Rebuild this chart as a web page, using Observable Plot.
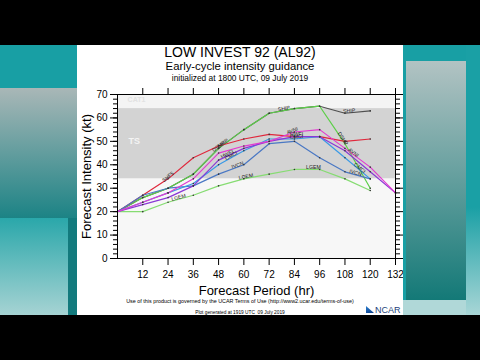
<!DOCTYPE html>
<html><head><meta charset="utf-8">
<script src="https://cdn.jsdelivr.net/npm/d3@7"></script>
<script src="https://cdn.jsdelivr.net/npm/@observablehq/plot@0.6"></script>
<style>
html,body{margin:0;padding:0;background:#000;width:480px;height:360px;overflow:hidden;font-family:"Liberation Sans",Arial,Helvetica,sans-serif;}
#stage{position:absolute;left:0;top:45px;width:480px;height:270px;background:#189fa4;overflow:hidden;}
.deco{position:absolute;}
#panel{position:absolute;left:77px;top:0;width:326px;height:270px;background:#fff;overflow:hidden;}
.t{position:absolute;left:0;width:326px;text-align:center;color:#000;white-space:nowrap;line-height:1.1;}
#chart{position:absolute;left:0;top:39px;}
</style></head>
<body>
<div id="stage">
  <div class="deco" style="left:0;top:43px;width:77px;height:130px;background:linear-gradient(#a9b7b7,#1c8385);"></div>
  <div class="deco" style="left:0;top:173px;width:68px;height:97px;background:linear-gradient(#2aa7aa,#a6d3d3);"></div>
  <div class="deco" style="left:68px;top:173px;width:9px;height:97px;background:#137a7d;"></div>
  <div class="deco" style="left:466px;top:0;width:14px;height:270px;background:linear-gradient(#1aa0a5 60%,#a8d6d6);"></div>
  <div class="deco" style="left:406px;top:16px;width:60px;height:239px;background:linear-gradient(#b2c3c3,#137977);"></div>
  <div class="deco" style="left:403px;top:255px;width:63px;height:15px;background:#b0d8d8;"></div>
  <div id="panel">
    <div class="t" style="top:0px;font-size:14px;">LOW INVEST 92 (AL92)</div>
    <div class="t" style="top:15px;font-size:11.3px;">Early-cycle intensity guidance</div>
    <div class="t" style="top:29px;font-size:8.4px;">initialized at 1800 UTC, 09 July 2019</div>
    <div id="chart"></div>
    <div class="t" style="top:254px;font-size:5.4px;">Use of this product is governed by the UCAR Terms of Use (http://www2.ucar.edu/terms-of-use)</div>
    <div class="t" style="top:265px;font-size:4.8px;">Plot generated at 1919 UTC&nbsp;&nbsp;09 July 2019</div>
    <div style="position:absolute;left:289px;top:261px;font-size:9px;line-height:1;color:#1d3f7a;white-space:nowrap;"><span style="display:inline-block;width:8px;height:7px;background:linear-gradient(160deg,#2a7fd0,#0b3d8a);clip-path:polygon(0 0,100% 100%,0 100%);margin-right:1px;"></span>NCAR</div>
  </div>
</div>
<script>
const hours = [0,12,24,36,48,60,72,84,96,108,120,132];
const modelNames  = ["SHIP","DSHP","SHF5","LGEM","IVCN","CMCI","HWFI","AVNI"];
const modelColors = ["#505050","#5ccf48","#e0283c","#86dc72","#4a78c4","#3a9ae6","#8a38d6","#e23ad0"];
const SHIP = [20,26,30,36,47,55,62,64,65,62,63,null];
const DSHP = [20,26,30,36,47,55,62,64,65,49,30,null];
const SHF5 = [20,27,34,43,48,51,53,52,52,50,51,null];
const LGEM = [20,20,24,27,31,34,36,38,38,34,29,null];
const IVCN = [20,27,30,31,36,40,49,50,43,37,34,null];
const CMCI = [20,24,28,32,40,46,51,51,52,43,34,null];
const HWFI = [20,23,26,31,42,47,50,52,52,46,37,28];
const AVNI = [20,24,28,34,45,48,50,54,55,47,39,28];
const seriesValues = [SHIP,DSHP,SHF5,LGEM,IVCN,CMCI,HWFI,AVNI];
const bandNames = ["TD","TS","CAT1"];
const bandLo = [0,34,64];
const bandHi = [34,64,83];
const bandFills = ["#f7f7f7","#d3d3d3","#f4f4f4"];
const xTicks = [12,24,36,48,60,72,84,96,108,120,132];
const yTicks = [0,10,20,30,40,50,60,70];
const labelModels = ["SHF5","DSHP","SHIP","SHIP","LGEM","LGEM","LGEM","IVCN","CMCI","HWFI","AVNI","HWFI","CMCI","DSHP","AVNI","IVCN","CMCI","SHIP"];
const labelHours  = [24,48,50,79,29,61,93,57,54,52,83,85,85,107,112,113,115,110];

const rows = [];
modelNames.forEach((m,i)=>seriesValues[i].forEach((v,j)=>{ if(v!=null) rows.push({model:m,hour:hours[j],value:v}); }));
const bands = bandNames.map((n,i)=>({name:n,lo:bandLo[i],hi:bandHi[i]}));

const W=326,H=216,ML=40,MR=8,MT=10,MB=42;
const kx=(W-ML-MR)/132, ky=(H-MT-MB)/70;
function valAt(m,t){
  const s=seriesValues[modelNames.indexOf(m)];
  const j=Math.min(Math.floor(t/12),hours.length-2);
  let a=s[j],b=s[j+1]; if(b==null) b=a;
  const f=(t-hours[j])/12;
  return {v:a+(b-a)*f, ang:-Math.atan2((b-a)*ky,12*kx)*180/Math.PI};
}
const labels = labelModels.map((m,i)=>{const r=valAt(m,labelHours[i]);return {model:m,hour:labelHours[i],value:r.v,ang:r.ang};});

const chart = Plot.plot({
  width:W,height:H,marginLeft:ML,marginRight:MR,marginTop:MT,marginBottom:MB,
  style:{fontFamily:'"Liberation Sans",Arial,Helvetica,sans-serif',background:"transparent",color:"#000"},
  x:{domain:[0,132]},
  y:{domain:[0,70]},
  color:{domain:modelNames,range:modelColors},
  marks:[
    Plot.rectY(bands,{y1:"lo",y2:"hi",fill:d=>bandFills[bandNames.indexOf(d.name)],clip:true}),
    Plot.text(bands.filter(d=>d.name==="TS"),{x:()=>8,y:()=>50,text:"name",fill:"#f4f4f4",fontSize:9,fontWeight:"bold"}),
    Plot.text(bands.filter(d=>d.name==="CAT1"),{x:()=>9,y:()=>67.6,text:"name",fill:"#e2e2e2",fontSize:7,fontWeight:"bold"}),
    Plot.line(rows,{x:"hour",y:"value",z:"model",stroke:"model",strokeWidth:1.2}),
    Plot.dot(rows.filter(d=>d.hour>0),{x:"hour",y:"value",r:0.8,fill:"#333"}),
    Plot.text(labels,{x:"hour",y:"value",text:"model",rotate:"ang",fontSize:5.2,fill:"#222",dy:-2}),
    Plot.frame({stroke:"#000"}),
    Plot.axisX(xTicks,{anchor:"bottom",tickSize:7,tickPadding:5,fontSize:10,label:"Forecast Period (hr)",labelAnchor:"center",labelArrow:"none",labelOffset:36}),
    Plot.axisX(xTicks,{anchor:"top",tickSize:7,fill:null,label:null}),
    Plot.axisY(yTicks,{anchor:"left",tickSize:7,tickPadding:3,fontSize:10,label:"Forecast Intensity (kt)",labelAnchor:"center",labelArrow:"none",labelOffset:36}),
    Plot.axisY(d3.range(0,71,2),{anchor:"left",tickSize:4,fill:null,label:null}),
    Plot.axisY(yTicks,{anchor:"right",tickSize:7,fill:null,label:null}),
    Plot.axisY(d3.range(0,71,2),{anchor:"right",tickSize:4,fill:null,label:null})
  ]
});
chart.querySelectorAll('g[aria-label="x-axis label"] text, g[aria-label="y-axis label"] text').forEach(t=>t.setAttribute("font-size","13"));
document.getElementById("chart").appendChild(chart);
</script>
</body></html>
